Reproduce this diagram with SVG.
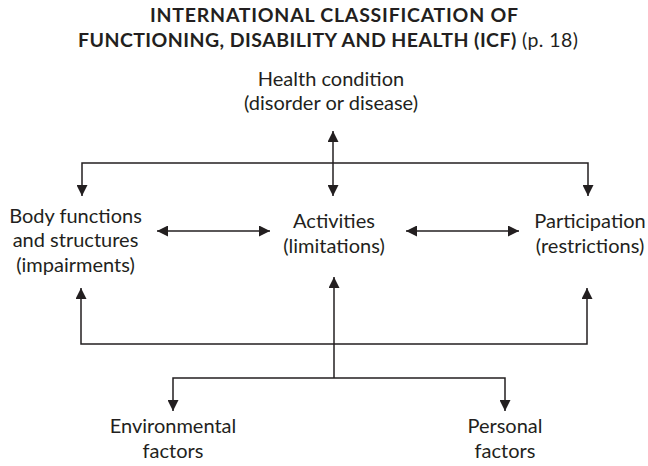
<svg xmlns="http://www.w3.org/2000/svg" width="648" height="466" viewBox="0 0 648 466">
<style>
text{font-family:Lato,"Open Sans","Liberation Sans",sans-serif;fill:#231f20;text-anchor:middle}
.t{font-size:19.5px;font-weight:bold}
.p{font-weight:normal}
.n{font-size:20px}
.c{fill:none;stroke:#231f20;stroke-width:1.5}
</style>
<defs>
<marker id="a" viewBox="0 0 10 10" refX="10" refY="5" markerWidth="11" markerHeight="11" markerUnits="userSpaceOnUse" orient="auto-start-reverse">
<path d="M0,0 L10,5 L0,10 Z" fill="#231f20"/>
</marker>
</defs>
<g id="title">
<text class="t" x="334" y="22" textLength="368">INTERNATIONAL CLASSIFICATION OF</text>
<text class="t" x="328" y="47" textLength="500">FUNCTIONING, DISABILITY AND HEALTH (ICF) <tspan class="p">(p. 18)</tspan></text>
</g>
<g id="health"><text class="n" x="331" y="86">Health condition</text><text class="n" x="331" y="110">(disorder or disease)</text></g>
<g id="body"><text class="n" x="75.5" y="223">Body functions</text><text class="n" x="75.5" y="247">and structures</text><text class="n" x="75.5" y="272">(impairments)</text></g>
<g id="activities"><text class="n" x="334" y="228">Activities</text><text class="n" x="334" y="253">(limitations)</text></g>
<g id="participation"><text class="n" x="590" y="228">Participation</text><text class="n" x="590" y="253">(restrictions)</text></g>
<g id="environmental"><text class="n" x="173" y="433">Environmental</text><text class="n" x="173" y="458">factors</text></g>
<g id="personal"><text class="n" x="505" y="433">Personal</text><text class="n" x="505" y="458">factors</text></g>
<g id="connectors">
<path class="c" d="M333,131 V196" marker-start="url(#a)" marker-end="url(#a)"/>
<path class="c" d="M82,196 V163 H588 V196" marker-start="url(#a)" marker-end="url(#a)"/>
<path class="c" d="M157,231 H270" marker-start="url(#a)" marker-end="url(#a)"/>
<path class="c" d="M406,231 H519" marker-start="url(#a)" marker-end="url(#a)"/>
<path class="c" d="M81,288 V344 H587 V288" marker-start="url(#a)" marker-end="url(#a)"/>
<path class="c" d="M334,277 V378" marker-start="url(#a)"/>
<path class="c" d="M173,411 V378 H505 V411" marker-start="url(#a)" marker-end="url(#a)"/>
</g>
</svg>
